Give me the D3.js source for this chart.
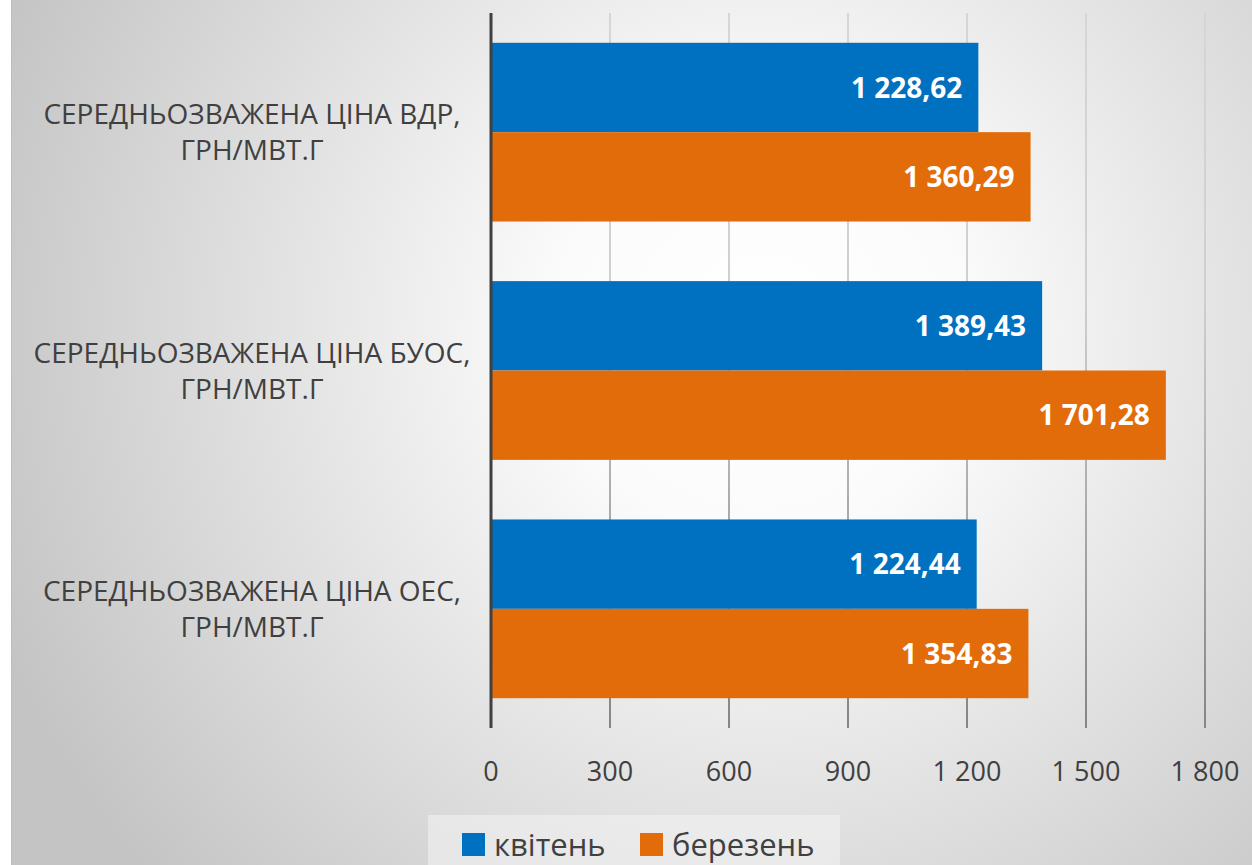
<!DOCTYPE html>
<html>
<head>
<meta charset="utf-8">
<script src="https://cdn.jsdelivr.net/npm/d3@7"></script>
<style>
  html, body { margin: 0; padding: 0; background: #fff; }
  svg { display: block; }
</style>
</head>
<body>
<script>
;(() => {
    var width = 1252, height = 865;

    // data
    var categories = [
        ['СЕРЕДНЬОЗВАЖЕНА ЦІНА ВДР,', 'ГРН/МВТ.Г'],
        ['СЕРЕДНЬОЗВАЖЕНА ЦІНА БУОС,', 'ГРН/МВТ.Г'],
        ['СЕРЕДНЬОЗВАЖЕНА ЦІНА ОЕС,', 'ГРН/МВТ.Г']
    ];
    var seriesNames = ['квітень', 'березень'];
    var april = [1228.62, 1389.43, 1224.44];
    var march = [1360.29, 1701.28, 1354.83];
    var tickValues = [0, 300, 600, 900, 1200, 1500, 1800];
    var colors = ['#0070c0', '#e36c0a'];

    var series = [april, march];

    var plot = { left: 491, right: 1205, top: 13, bottom: 728 }; // plot area

    var svg = d3.select('body')
        .append('svg')
        .attr('width', width)
        .attr('height', height);

    var defs = svg.append('defs');
    var bg = defs.append('radialGradient')
        .attr('id', 'bg')
        .attr('gradientUnits', 'userSpaceOnUse')
        .attr('cx', 760).attr('cy', 330).attr('r', 820);
    bg.append('stop').attr('offset', '0').attr('stop-color', '#ffffff');
    bg.append('stop').attr('offset', '0.25').attr('stop-color', '#fbfbfb');
    bg.append('stop').attr('offset', '1').attr('stop-color', '#c4c4c4');

    var gridGrad = defs.append('linearGradient')
        .attr('id', 'grid')
        .attr('gradientUnits', 'userSpaceOnUse')
        .attr('x1', 0).attr('y1', plot.top).attr('x2', 0).attr('y2', plot.bottom);
    gridGrad.append('stop').attr('offset', '0').attr('stop-color', '#d6d6d6');
    gridGrad.append('stop').attr('offset', '0.4').attr('stop-color', '#cfcfcf');
    gridGrad.append('stop').attr('offset', '1').attr('stop-color', '#858585');

    // background
    svg.append('rect')
        .attr('x', 11).attr('y', 0)
        .attr('width', width - 11).attr('height', height)
        .attr('fill', 'url(#bg)');
    svg.append('line')
        .attr('x1', 11.5).attr('x2', 11.5)
        .attr('y1', 0).attr('y2', height)
        .attr('stroke', '#bdbdbd').attr('stroke-width', 1);

    var x = d3.scaleLinear().domain([0, 1800]).range([plot.left, plot.right]);
    var y = d3.scaleBand()
        .domain(d3.range(categories.length))
        .range([plot.top, plot.bottom])
        .paddingInner(0.25)
        .paddingOuter(0.125);
    var ySub = d3.scaleBand()
        .domain(d3.range(series.length))
        .range([0, y.bandwidth()]);

    // gridlines
    svg.append('g')
        .selectAll('line')
        .data(tickValues.slice(1))
        .enter()
        .append('line')
        .attr('x1', d => x(d)).attr('x2', d => x(d))
        .attr('y1', plot.top).attr('y2', plot.bottom)
        .attr('stroke', 'url(#grid)')
        .attr('stroke-width', 2);

    // bars
    var groups = svg.append('g')
        .selectAll('g')
        .data(categories.map((c, i) => i))
        .enter()
        .append('g')
        .attr('transform', i => 'translate(0,' + y(i) + ')');

    var fmt = v => {
        var s = v.toFixed(2).replace('.', ',');
        var parts = s.split(',');
        parts[0] = parts[0].replace(/\B(?=(\d{3})+(?!\d))/g, ' ');
        return parts.join(',');
    };

    groups.selectAll('rect')
        .data(i => series.map((s, k) => ({ k: k, v: s[i] })))
        .enter()
        .append('rect')
        .attr('x', x(0))
        .attr('y', d => ySub(d.k))
        .attr('width', d => x(d.v) - x(0))
        .attr('height', ySub.bandwidth())
        .attr('fill', d => colors[d.k]);

    groups.selectAll('text')
        .data(i => series.map((s, k) => ({ k: k, v: s[i] })))
        .enter()
        .append('text')
        .attr('x', d => x(d.v) - 16)
        .attr('y', d => ySub(d.k) + ySub.bandwidth() / 2)
        .attr('dy', '0.36em')
        .attr('text-anchor', 'end')
        .attr('font-family', 'Open Sans, sans-serif')
        .attr('font-weight', 'bold')
        .attr('font-size', 28)
        .attr('fill', '#fff')
        .text(d => fmt(d.v));

    // vertical axis line
    svg.append('line')
        .attr('x1', x(0)).attr('x2', x(0))
        .attr('y1', plot.top).attr('y2', plot.bottom)
        .attr('stroke', '#404040')
        .attr('stroke-width', 3);

    // category labels
    var catLabels = svg.append('g')
        .selectAll('text')
        .data(categories)
        .enter()
        .append('text')
        .attr('font-family', 'Open Sans, sans-serif')
        .attr('font-size', 28)
        .attr('fill', '#404040')
        .attr('text-anchor', 'middle')
        .attr('transform', (d, i) => 'translate(252,' + (y(i) + y.bandwidth() / 2) + ')');
    catLabels.selectAll('tspan')
        .data(d => d)
        .enter()
        .append('tspan')
        .attr('x', 0)
        .attr('y', (d, j) => (j - 0.5) * 36)
        .attr('dy', '0.36em')
        .text(d => d);

    // x tick labels
    svg.append('g')
        .selectAll('text')
        .data(tickValues)
        .enter()
        .append('text')
        .attr('x', d => x(d))
        .attr('y', 771)
        .attr('dy', '0.36em')
        .attr('text-anchor', 'middle')
        .attr('font-family', 'Open Sans, sans-serif')
        .attr('font-size', 27)
        .attr('fill', '#404040')
        .text(d => d3.format(',')(d).replace(/,/g, ' '));

    // legend
    var legend = svg.append('g');
    legend.append('rect')
        .attr('x', 428).attr('y', 815)
        .attr('width', 412).attr('height', 50)
        .attr('fill', '#f2f2f2')
        .attr('opacity', 0.6);
    var legendX = [462, 640];
    var items = legend.selectAll('g')
        .data(seriesNames)
        .enter()
        .append('g')
        .attr('transform', (d, i) => 'translate(' + legendX[i] + ',833)');
    items.append('rect')
        .attr('width', 23).attr('height', 23)
        .attr('fill', (d, i) => colors[i]);
    items.append('text')
        .attr('x', 32)
        .attr('y', 12)
        .attr('dy', '0.36em')
        .attr('font-family', 'Open Sans, sans-serif')
        .attr('font-size', 31)
        .attr('fill', '#404040')
        .text(d => d);
})();
</script>
</body>
</html>
